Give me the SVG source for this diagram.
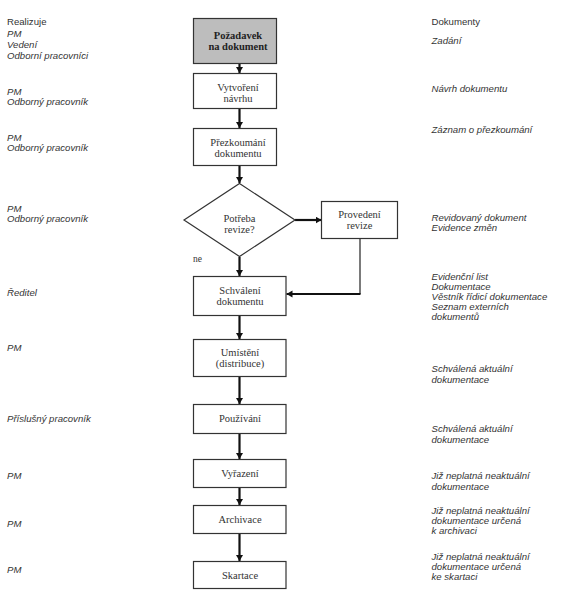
<svg xmlns="http://www.w3.org/2000/svg" width="561" height="600" viewBox="0 0 561 600">
<style>
.bg{fill:#ffffff}
.box{fill:#ffffff;stroke:#333333;stroke-width:1.2}
.start{fill:#bdbdbd;stroke:#333333;stroke-width:1.2}
.nt{font-family:"Liberation Serif","Times New Roman",serif;font-size:10.5px;fill:#333333;text-anchor:middle}
.nb{font-weight:bold;fill:#222222}
.side{font-family:"Liberation Sans",Arial,sans-serif;font-size:9.6px;fill:#333333;font-style:italic}
.hdr{font-family:"Liberation Sans",Arial,sans-serif;font-size:9.6px;fill:#333333}
.ln{fill:none;stroke:#111111;stroke-width:2.2}
.thin{fill:none;stroke:#222222;stroke-width:1.2}
</style>
<defs>
<marker id="ah" markerUnits="userSpaceOnUse" markerWidth="8" markerHeight="8" refX="6" refY="3.5" orient="auto">
<path d="M0,0 L6,3.5 L0,7 Z" fill="#111111"/>
</marker>
</defs>
<rect class="bg" x="0" y="0" width="561" height="600"/>

<g id="connectors">
<line class="ln" x1="239.5" y1="63.5" x2="239.5" y2="73" marker-end="url(#ah)"/>
<line class="ln" x1="239.5" y1="108.5" x2="239.5" y2="128" marker-end="url(#ah)"/>
<line class="ln" x1="239.5" y1="165.5" x2="239.5" y2="183" marker-end="url(#ah)"/>
<line class="ln" x1="239.5" y1="257" x2="239.5" y2="276" marker-end="url(#ah)"/>
<line class="ln" x1="295" y1="220" x2="321.5" y2="220" marker-end="url(#ah)"/>
<polyline class="thin" points="360,238.5 360,294"/>
<line class="ln" x1="360.5" y1="294" x2="286.5" y2="294" marker-end="url(#ah)"/>
<line class="ln" x1="239.5" y1="315.5" x2="239.5" y2="339" marker-end="url(#ah)"/>
<line class="ln" x1="239.5" y1="377" x2="239.5" y2="404" marker-end="url(#ah)"/>
<line class="ln" x1="239.5" y1="433.5" x2="239.5" y2="459" marker-end="url(#ah)"/>
<line class="ln" x1="239.5" y1="487.5" x2="239.5" y2="505" marker-end="url(#ah)"/>
<line class="ln" x1="239.5" y1="533.5" x2="239.5" y2="561" marker-end="url(#ah)"/>
<text x="193" y="262" class="nt" style="text-anchor:start;font-size:9.5px">ne</text>
</g>

<g id="n-pozadavek">
<rect class="start" x="193.5" y="18.5" width="83" height="45"/>
<text class="nt nb" x="238" y="39">Požadavek</text>
<text class="nt nb" x="238" y="50">na dokument</text>
</g>
<g id="n-vytvoreni">
<rect class="box" x="193.5" y="73.5" width="83" height="35"/>
<text class="nt" x="238" y="91">Vytvoření</text>
<text class="nt" x="238" y="102">návrhu</text>
</g>
<g id="n-prezkoumani">
<rect class="box" x="193.5" y="128.5" width="83" height="37"/>
<text class="nt" x="238" y="146">Přezkoumání</text>
<text class="nt" x="238" y="157">dokumentu</text>
</g>
<g id="n-potreba">
<polygon class="box" points="239.5,183.5 295,220 239.5,256.5 184,220"/>
<text class="nt" x="239.5" y="222">Potřeba</text>
<text class="nt" x="239.5" y="233">revize?</text>
</g>
<g id="n-provedeni">
<rect class="box" x="321.5" y="201.5" width="76" height="37"/>
<text class="nt" x="359.5" y="218">Provedení</text>
<text class="nt" x="359.5" y="229">revize</text>
</g>
<g id="n-schvaleni">
<rect class="box" x="193.5" y="276.5" width="92.5" height="39"/>
<text class="nt" x="240" y="294">Schválení</text>
<text class="nt" x="240" y="305">dokumentu</text>
</g>
<g id="n-umisteni">
<rect class="box" x="193.5" y="339.5" width="92.5" height="37"/>
<text class="nt" x="240" y="356">Umístění</text>
<text class="nt" x="240" y="367">(distribuce)</text>
</g>
<g id="n-pouzivani">
<rect class="box" x="193.5" y="404.5" width="92.5" height="29"/>
<text class="nt" x="240" y="422">Používání</text>
</g>
<g id="n-vyrazeni">
<rect class="box" x="193.5" y="459.5" width="92.5" height="28"/>
<text class="nt" x="240" y="477">Vyřazení</text>
</g>
<g id="n-archivace">
<rect class="box" x="193.5" y="505.5" width="92.5" height="28"/>
<text class="nt" x="240" y="523">Archivace</text>
</g>
<g id="n-skartace">
<rect class="box" x="193.5" y="561.5" width="92.5" height="27"/>
<text class="nt" x="240" y="579">Skartace</text>
</g>

<g id="realizuje">
<text class="hdr" x="7" y="25">Realizuje</text>
<text class="side" x="7" y="37">PM</text>
<text class="side" x="7" y="48">Vedení</text>
<text class="side" x="7" y="59">Odborní pracovníci</text>
<text class="side" x="7" y="95">PM</text>
<text class="side" x="7" y="105">Odborný pracovník</text>
<text class="side" x="7" y="141">PM</text>
<text class="side" x="7" y="151">Odborný pracovník</text>
<text class="side" x="7" y="212">PM</text>
<text class="side" x="7" y="222">Odborný pracovník</text>
<text class="side" x="7" y="296">Ředitel</text>
<text class="side" x="7" y="351">PM</text>
<text class="side" x="7" y="422">Příslušný pracovník</text>
<text class="side" x="7" y="479">PM</text>
<text class="side" x="7" y="527">PM</text>
<text class="side" x="7" y="573">PM</text>
</g>

<g id="dokumenty">
<text class="hdr" x="431.5" y="25">Dokumenty</text>
<text class="side" x="431.5" y="44">Zadání</text>
<text class="side" x="431.5" y="92">Návrh dokumentu</text>
<text class="side" x="431.5" y="133">Záznam o přezkoumání</text>
<text class="side" x="431.5" y="221">Revidovaný dokument</text>
<text class="side" x="431.5" y="231">Evidence změn</text>
<text class="side" x="431.5" y="280">Evidenční list</text>
<text class="side" x="431.5" y="290">Dokumentace</text>
<text class="side" x="431.5" y="300">Věstník řídicí dokumentace</text>
<text class="side" x="431.5" y="310">Seznam externích</text>
<text class="side" x="431.5" y="320">dokumentů</text>
<text class="side" x="431.5" y="372">Schválená aktuální</text>
<text class="side" x="431.5" y="383">dokumentace</text>
<text class="side" x="431.5" y="432">Schválená aktuální</text>
<text class="side" x="431.5" y="443">dokumentace</text>
<text class="side" x="431.5" y="479">Již neplatná neaktuální</text>
<text class="side" x="431.5" y="490">dokumentace</text>
<text class="side" x="431.5" y="514">Již neplatná neaktuální</text>
<text class="side" x="431.5" y="524">dokumentace určená</text>
<text class="side" x="431.5" y="534">k archivaci</text>
<text class="side" x="431.5" y="560">Již neplatná neaktuální</text>
<text class="side" x="431.5" y="570">dokumentace určená</text>
<text class="side" x="431.5" y="580">ke skartaci</text>
</g>
</svg>
